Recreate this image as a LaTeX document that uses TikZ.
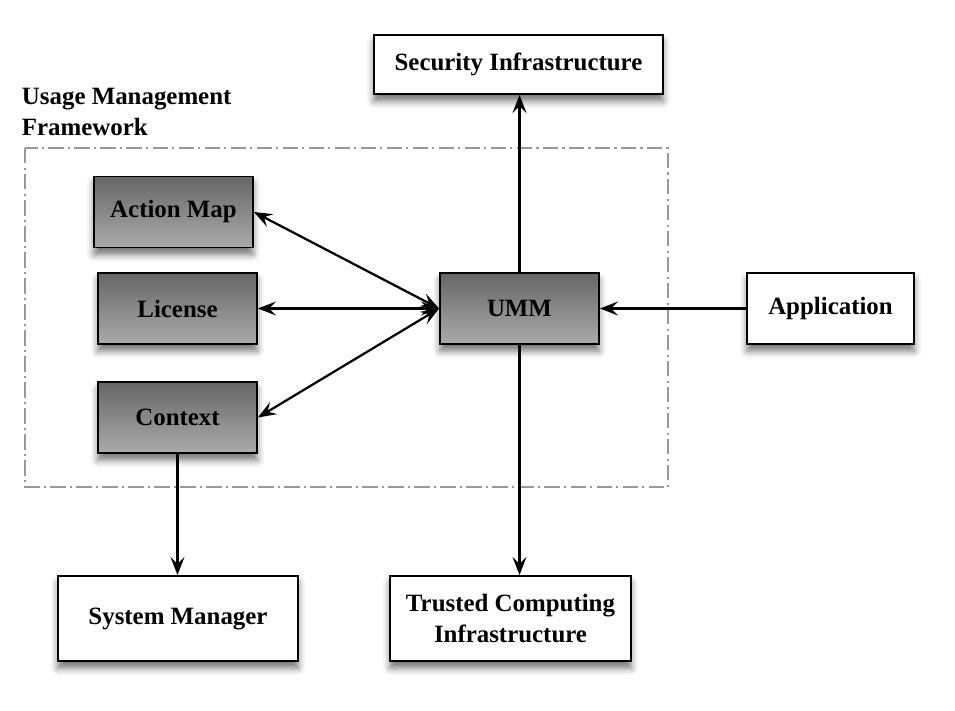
\documentclass[tikz,border=0pt]{standalone}
\usepackage{fontspec}
\setmainfont{Liberation Serif}
\usetikzlibrary{arrows.meta,shadows.blur}
\tikzset{
  umbox/.style={rectangle,draw=black,line width=1.3pt,font=\bfseries\fontsize{17.7}{22}\selectfont,
    align=center,minimum height=71*0.025cm,
    blur shadow={shadow xshift=0pt,shadow yshift=-5pt,shadow blur radius=5pt,shadow opacity=55}},
  darkbox/.style={umbox,top color=black!60,bottom color=black!33,minimum width=159*0.025cm},
  lightbox/.style={umbox,fill=white},
  flow/.style={line width=1.6pt,-{Stealth[length=13pt,width=10pt,inset=5pt]}},
  twoway/.style={line width=1.6pt,{Stealth[length=13pt,width=10pt,inset=5pt]}-{Stealth[length=13pt,width=10pt,inset=5pt]}}
}
\begin{document}
\begin{tikzpicture}[x=0.025cm,y=-0.025cm]
        \useasboundingbox (0,0) rectangle (955,711);

        \draw[gray!80,line width=1.2pt,dash pattern=on 11pt off 3pt on 1.5pt off 3pt] (25,148) rectangle (668,487);
        \node[anchor=west,align=left,font=\bfseries\fontsize{17.7}{22}\selectfont] (umf) at (17,112) {Usage Management\\Framework};

        \begin{scope}[every node/.style={darkbox}]
          \node (actionmap) at (173.5,212)   {Action Map};
          \node (license)   at (177.5,308.5) {License};
          \node (context)   at (177.5,417.5) {Context};
          \node (umm)       at (519.5,308.5) {UMM};
        \end{scope}

        \begin{scope}[every node/.style={lightbox}]
          \node[minimum width=289*0.025cm,minimum height=59*0.025cm] (security) at (518.5,64.5) {Security Infrastructure};
          \node[minimum width=167*0.025cm] (application) at (830.5,308.5) {Application};
          \node[minimum width=240*0.025cm,minimum height=85*0.025cm] (sysmanager) at (178,618.5) {System Manager};
          \node[minimum width=241*0.025cm,minimum height=85*0.025cm] (trusted) at (510.5,618.5) {Trusted Computing\\Infrastructure};
        \end{scope}

        \path[flow] (umm) edge (umm |- security.south);
        \path[flow] (umm) edge (umm |- trusted.north);
        \path[flow] (application) edge (umm);
        \path[flow] (context) edge (context |- sysmanager.north);
        \path[twoway] (actionmap.east) edge (umm.west);
        \path[twoway] (license.east) edge (umm.west);
        \path[twoway] (context.east) edge (umm.west);

      \end{tikzpicture}
\end{document}
